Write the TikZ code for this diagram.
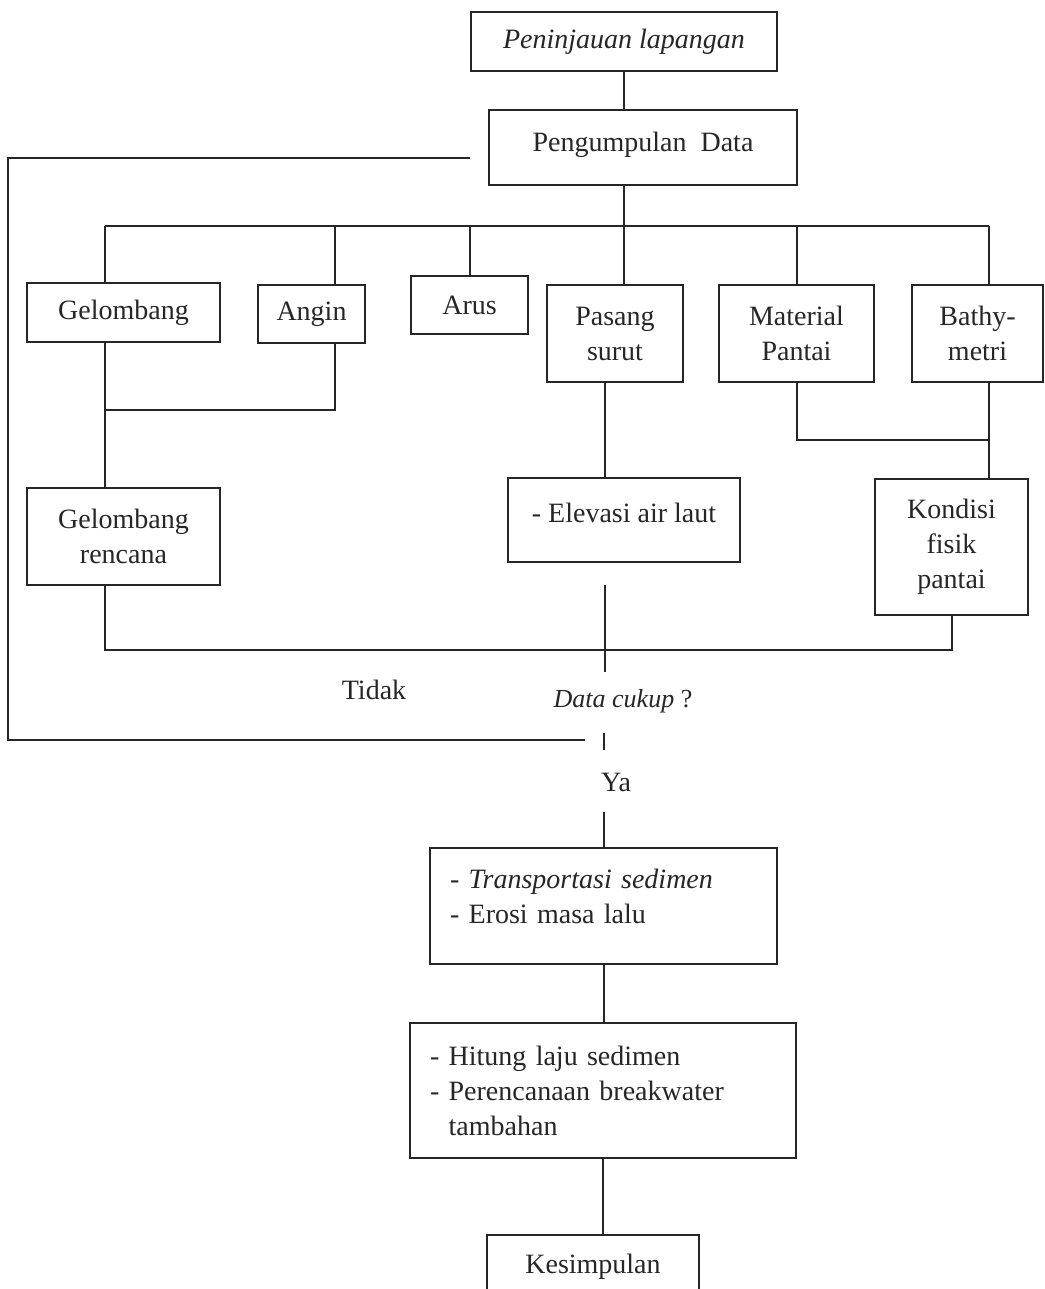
\documentclass[tikz,border=0pt]{standalone}
\usepackage{fontspec}
\setmainfont{Liberation Serif}
\definecolor{ink}{HTML}{262626}
\usepackage{tikz}
\usetikzlibrary{positioning}

\tikzset{
  box/.style={draw=ink, line width=1pt, inner sep=0pt, align=center, text=ink,
    font=\fontsize{14}{17.5}\selectfont},
  listbox/.style={box, align=left, inner xsep=10pt},
  link/.style={draw=ink, line width=1pt},
  lbl/.style={text=ink, inner sep=0pt, font=\fontsize{14}{17.5}\selectfont}
}

\begin{document}
\begin{tikzpicture}[x=0.5pt,y=-0.5pt]
  \useasboundingbox (0,0) rectangle (1044,1289);
  % survey and data collection
  \node[box, minimum width=153pt, minimum height=29.5pt] (lap) at (624,41.5) {\itshape Peninjauan lapangan};
  \node[box, minimum width=154pt, minimum height=37.5pt] (data) at (643,147.5) {Pengumpulan\ \ Data\\[-12pt]\mbox{}};
  % collected data
  \node[box, minimum width=96.5pt, minimum height=29.5pt] (gel) at (123.5,312.5) {Gelombang};
  \node[box, minimum width=53.5pt, minimum height=29pt] (angin) at (311.5,314) {Angin};
  \node[box, minimum width=58.5pt, minimum height=29pt] (arus) at (469.5,305) {Arus};
  \node[box, minimum width=68pt, minimum height=48.5pt] (pasang) at (615,333.5) {Pasang\\surut};
  \node[box, minimum width=77.5pt, minimum height=48.5pt] (material) at (796.5,333.5) {Material\\Pantai};
  \node[box, minimum width=65.5pt, minimum height=48.5pt] (bathy) at (977.5,333.5) {Bathy-\\metri};
  % processed data
  \node[box, minimum width=96.5pt, minimum height=48.5pt] (gelren) at (123.5,536.5) {Gelombang\\rencana};
  \node[box, minimum width=116pt, minimum height=42pt] (elev) at (624,520) {- Elevasi air laut\\[-10pt]\mbox{}};
  \node[box, minimum width=76.5pt, minimum height=68pt] (kondisi) at (951.5,547) {Kondisi\\fisik\\pantai};
  % decision
  \node[lbl] (tidak) at (374,690) {Tidak};
  \node[lbl, font=\fontsize{13}{16}\selectfont] (cukup) at (623,701) {\textit{Data cukup} ?};
  \node[lbl] (ya) at (616,782) {Ya};
  % analysis
  \node[listbox, minimum width=173.5pt, minimum height=58pt, text width=153.5pt] (trans) at (603.5,906)
    {- \textit{Transportasi sedimen}\\- Erosi masa lalu\\[-8pt]\mbox{}};
  \node[listbox, minimum width=193pt, minimum height=67.5pt, text width=173pt] (hitung) at (603,1090.5)
    {- Hitung laju sedimen\\- Perencanaan breakwater\\\phantom{- }tambahan};
  \node[box, minimum width=106pt, minimum height=32pt] (kes) at (593,1267) {Kesimpulan};

  % connectors
  \coordinate (busL) at (105,226);
  \coordinate (busR) at (989,226);
  \draw[link] (lap.south) -- (lap.south |- data.north);
  \draw[link] (lap.south |- data.south) -- (lap.south |- busL);
  \draw[link] (busL) -- (busR);
  \foreach \n/\x in {gel/105,angin/335,arus/470,pasang/624,material/797,bathy/989}
    \draw[link] (\x,226) -- (\x,226 |- \n.north);
  \draw[link] (335,0 |- angin.south) -- (335,410) -- (105,410);
  \draw[link] (105,0 |- gel.south) -- (105,0 |- gelren.north);
  \draw[link] (605,0 |- pasang.south) -- (605,0 |- elev.north);
  \draw[link] (797,0 |- material.south) -- (797,440) -- (989,440);
  \draw[link] (989,0 |- bathy.south) -- (989,0 |- kondisi.north);
  \draw[link] (105,0 |- gelren.south) -- (105,650) -- (kondisi.south |- 0,650) -- (kondisi.south);
  \coordinate (elevgap) at (605,585);
  \draw[link] (elevgap) -- (605,672);
  % feedback loop
  \coordinate (fbtop) at (470,158);
  \coordinate (fbbot) at (585,740);
  \draw[link] (fbtop) -- (8,158) -- (8,740) -- (fbbot);
  \draw[link] (604,733) -- (604,750);
  \draw[link] (604,812) -- (604,0 |- trans.north);
  \draw[link] (trans.south) -- (trans.south |- hitung.north);
  \draw[link] (hitung.south) -- (hitung.south |- kes.north);
\end{tikzpicture}
\end{document}
